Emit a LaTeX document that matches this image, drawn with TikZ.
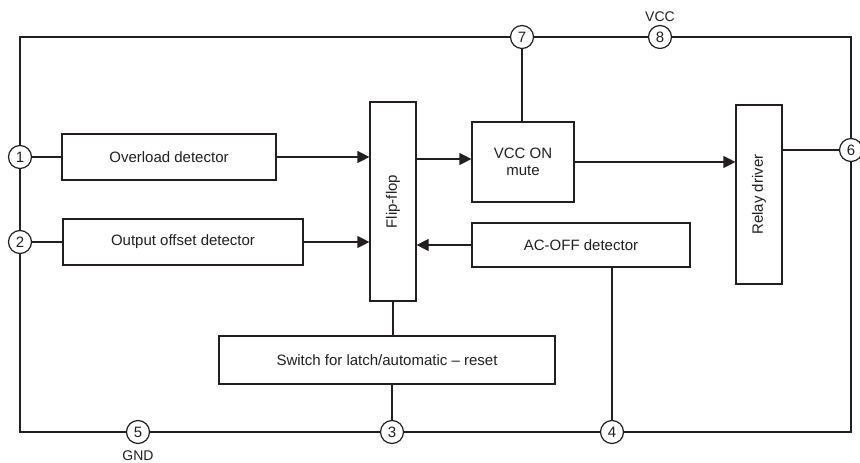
\documentclass[tikz,border=0pt]{standalone}
\usepackage{fontspec}
\setmainfont{Liberation Sans}
\usetikzlibrary{arrows.meta,calc}
\definecolor{ink}{RGB}{35,31,32}
\begin{document}
\begin{tikzpicture}[x=1pt,y=-1pt,color=ink,line width=1.2pt,
  pin/.style={circle,draw=ink,fill=white,line width=1.2pt,minimum size=23pt,inner sep=0pt,font=\fontsize{15}{15}\selectfont,text=ink},
  blk/.style={rectangle,draw=ink,fill=white,line width=1.2pt,inner sep=0pt,font=\fontsize{15}{17}\selectfont,text=ink,align=center},
  lbl/.style={font=\fontsize{14}{14}\selectfont,text=ink,inner sep=0pt},
  arr/.style={-{Triangle[length=12pt,width=12pt]}}]
\useasboundingbox (0,0) rectangle (860,463);
% pins
\node[pin] (p1) at (20,157) {1};
\node[pin] (p2) at (20,242) {2};
\node[pin] (p7) at (522,37) {7};
\node[pin] (p8) at (660,37) {8};
\node[pin] (p6) at (851,150) {6};
\node[pin] (p5) at (138,432) {5};
\node[pin] (p3) at (392,432) {3};
\node[pin] (p4) at (612,432) {4};
\coordinate (tl) at (20,37);
\coordinate (tr) at (851,37);
\coordinate (br) at (851,432);
\coordinate (bl) at (20,432);
% labels
\node[lbl] (vcc) at (660,17) {VCC};
\node[lbl] (gnd) at (138,456) {GND};
% blocks
\node[blk,minimum width=214pt,minimum height=46pt] (over) at (169,157) {Overload detector};
\node[blk,minimum width=240pt,minimum height=46pt] (off) at (183,242) {Output offset detector};
\node[blk,minimum width=46pt,minimum height=199pt] (ff) at (393,201.5) {\rotatebox{90}{Flip-flop}};
\node[blk,minimum width=102pt,minimum height=80pt] (mute) at (523,162) {VCC ON\\mute};
\node[blk,minimum width=46pt,minimum height=179pt] (relay) at (759,194.5) {\rotatebox{90}{Relay driver}};
\node[blk,minimum width=218pt,minimum height=44pt] (acoff) at (581,245) {AC-OFF detector};
\node[blk,minimum width=336pt,minimum height=48pt] (sw) at (387,360) {Switch for latch/automatic -- reset};
% outer frame
\draw (p1.north) -- (tl) -- (p7.west);
\draw (p7.east) -- (p8.west);
\draw (p8.east) -- (tr) -- (p6.north);
\draw (p6.south) -- (br) -- (p4.east);
\draw (p4.west) -- (p3.east);
\draw (p3.west) -- (p5.east);
\draw (p5.west) -- (bl) -- (p2.south);
\draw (p2.north) -- (p1.south);
% connections
\draw (p1.east) -- (over.west);
\draw (p2.east) -- (off.west);
\draw[arr] (over.east) -- (ff.west |- over.east);
\draw[arr] (off.east) -- (ff.west |- off.east);
\draw[arr] (acoff.west) -- (ff.east |- acoff.west);
\draw[arr] (ff.east |- 0,159) -- (mute.west |- 0,159);
\draw[arr] (mute.east) -- (relay.west |- mute.east);
\draw (relay.east |- p6) -- (p6.west);
\draw (p7.south) -- (p7 |- mute.north);
\draw (ff.south) -- (ff.south |- sw.north);
\draw (p3 |- sw.south) -- (p3.north);
\draw (acoff.south -| p4) -- (p4.north);
\end{tikzpicture}
\end{document}
